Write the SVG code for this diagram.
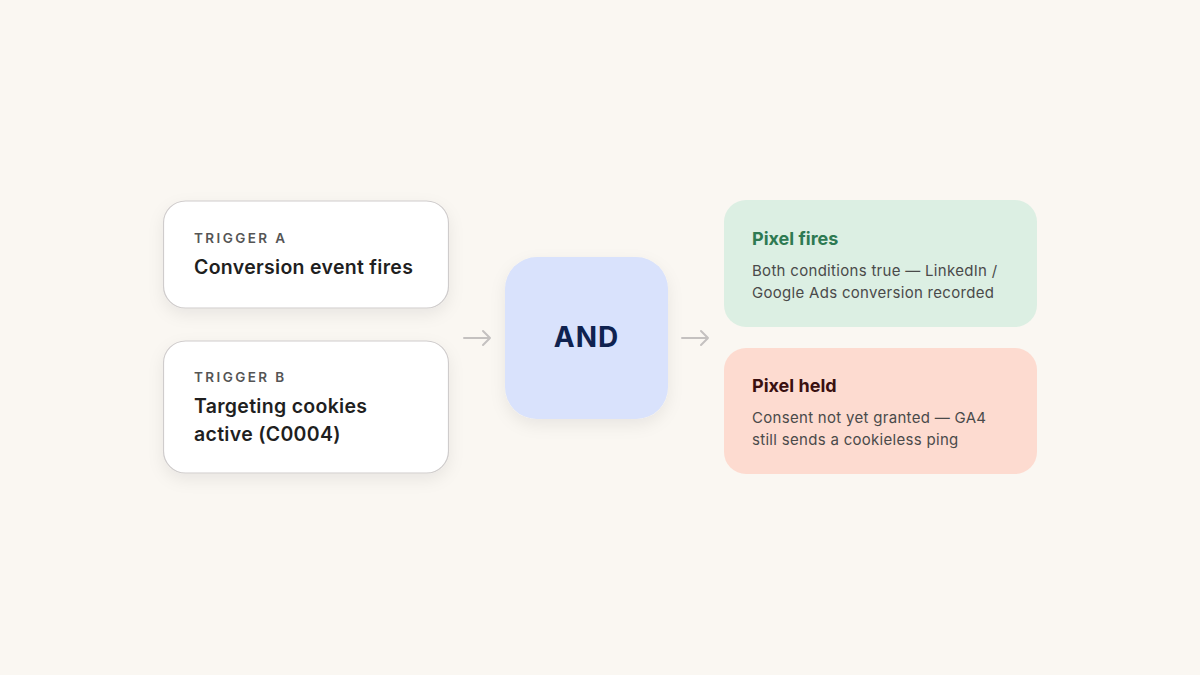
<svg xmlns="http://www.w3.org/2000/svg" width="1200" height="675" viewBox="0 0 1200 675">
<style>
text{font-family:Inter,"Open Sans","Liberation Sans",sans-serif}
.lab{font-size:13.5px;font-weight:600;letter-spacing:2.4px;fill:#555}
.t{font-size:19.5px;font-weight:600;fill:#1f1f1f;letter-spacing:0.3px}
.h{font-size:18px;font-weight:700}
.d{font-size:15px;fill:#4a4a4a;letter-spacing:0.3px}
.card{fill:#fff;stroke:#cfcccc;stroke-width:1.2}
.arr{stroke:#c4c1c0;stroke-width:2;fill:none;stroke-linecap:round;stroke-linejoin:round}
</style>
<defs>
<filter id="sh" x="-20%" y="-20%" width="140%" height="150%"><feDropShadow dx="0" dy="6" stdDeviation="8" flood-color="#000" flood-opacity="0.07"/></filter>
</defs>
<rect width="1200" height="675" fill="#faf7f2"/>
<g id="triggerA"><rect class="card" x="163.5" y="201" width="285" height="107" rx="22" filter="url(#sh)"/>
<text class="lab" x="194" y="243">TRIGGER A</text><text class="t" x="194" y="274">Conversion event fires</text></g>
<g id="triggerB"><rect class="card" x="163.5" y="341" width="285" height="132" rx="22" filter="url(#sh)"/>
<text class="lab" x="194" y="382">TRIGGER B</text><text class="t" x="194" y="413">Targeting cookies</text><text class="t" x="194" y="441">active (C0004)</text></g>
<g id="and"><rect x="505" y="257" width="163" height="162" rx="32" fill="#d9e2fc" filter="url(#sh)"/>
<text x="586.5" y="347" text-anchor="middle" font-size="28" font-weight="700" fill="#0f2250" letter-spacing="1">AND</text></g>
<g id="fires"><rect x="724" y="200" width="313" height="127" rx="22" fill="#dcefe3"/>
<text class="h" x="752" y="245" fill="#2e7a52">Pixel fires</text>
<text class="d" x="752" y="276">Both conditions true — LinkedIn /</text><text class="d" x="752" y="298">Google Ads conversion recorded</text></g>
<g id="held"><rect x="724" y="348" width="313" height="126" rx="22" fill="#fddbd0"/>
<text class="h" x="752" y="392" fill="#3a1010">Pixel held</text>
<text class="d" x="752" y="423">Consent not yet granted — GA4</text><text class="d" x="752" y="445">still sends a cookieless ping</text></g>
<g id="connectors">
<path class="arr" d="M464 338H490M483 331L490 338L483 345"/>
<path class="arr" d="M682 338H708M701 331L708 338L701 345"/>
</g>
</svg>
